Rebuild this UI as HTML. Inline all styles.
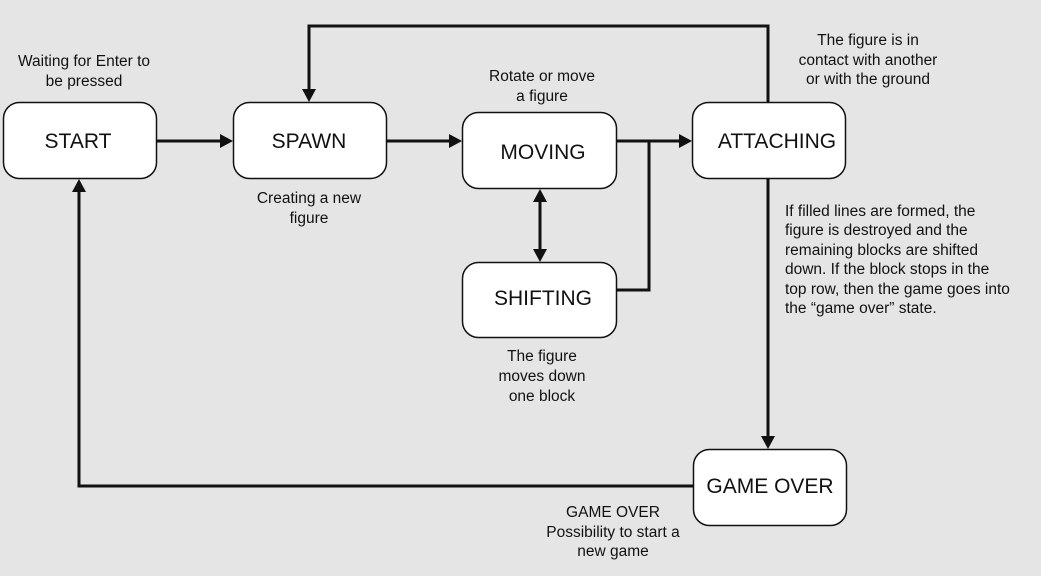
<!DOCTYPE html>
<html><head><meta charset="utf-8"><style>
html,body{margin:0;padding:0;background:#e5e5e5;}
svg{display:block;}
text{font-family:"Liberation Sans",sans-serif;fill:#111;}
.b{font-size:21px;}
.a{font-size:15.5px;}
</style></head><body>
<svg width="1041" height="576" viewBox="0 0 1041 576" xmlns="http://www.w3.org/2000/svg">
<rect width="1041" height="576" fill="#e5e5e5"/>
<g fill="#fff" stroke="#111" stroke-width="1.5">
<rect x="3.5" y="102.5" width="153" height="76" rx="16"/>
<rect x="233.5" y="102.5" width="153" height="76" rx="16"/>
<rect x="462.5" y="112.5" width="154" height="76" rx="16"/>
<rect x="692.5" y="102.5" width="153" height="76" rx="16"/>
<rect x="462.5" y="262.5" width="154" height="75" rx="16"/>
<rect x="693.5" y="449.5" width="153" height="76" rx="16"/>
</g>
<g fill="none" stroke="#111" stroke-width="3">
<line x1="157" y1="141" x2="222" y2="141"/>
<line x1="387" y1="141" x2="451" y2="141"/>
<line x1="617" y1="141" x2="681" y2="141"/>
<polyline points="617,290 649,290 649,141"/>
<line x1="540" y1="200" x2="540" y2="251"/>
<polyline points="768,102 768,26 309,26 309,91"/>
<line x1="768" y1="179" x2="768" y2="437"/>
<polyline points="693,486 79,486 79,190"/>
</g>
<g fill="#111">
<polygon points="233,141 220,134 220,148"/>
<polygon points="462,141 449,134 449,148"/>
<polygon points="692,141 679,134 679,148"/>
<polygon points="540,189 533,202 547,202"/>
<polygon points="540,262 533,249 547,249"/>
<polygon points="309,102 302,89 316,89"/>
<polygon points="768,449 761,436 775,436"/>
<polygon points="79,179 72,192 86,192"/>
</g>
<g class="b" text-anchor="middle">
<text x="78" y="148">START</text>
<text x="309" y="148">SPAWN</text>
<text x="543" y="159">MOVING</text>
<text x="777" y="148">ATTACHING</text>
<text x="543" y="305">SHIFTING</text>
<text x="770" y="493">GAME OVER</text>
</g>
<g class="a" text-anchor="middle">
<text x="84" y="66">Waiting for Enter to</text>
<text x="84" y="86">be pressed</text>
<text x="309" y="203">Creating a new</text>
<text x="309" y="223">figure</text>
<text x="542" y="81">Rotate or move</text>
<text x="542" y="101">a figure</text>
<text x="542" y="361">The figure</text>
<text x="542" y="381">moves down</text>
<text x="542" y="401">one block</text>
<text x="868" y="45">The figure is in</text>
<text x="868" y="65">contact with another</text>
<text x="868" y="84">or with the ground</text>
<text x="613" y="517">GAME OVER</text>
<text x="613" y="537">Possibility to start a</text>
<text x="613" y="556">new game</text>
</g>
<g class="a">
<text x="785" y="216">If filled lines are formed, the</text>
<text x="785" y="235">figure is destroyed and the</text>
<text x="785" y="255">remaining blocks are shifted</text>
<text x="785" y="274">down. If the block stops in the</text>
<text x="785" y="294">top row, then the game goes into</text>
<text x="785" y="313">the “game over” state.</text>
</g>
</svg>
</body></html>
